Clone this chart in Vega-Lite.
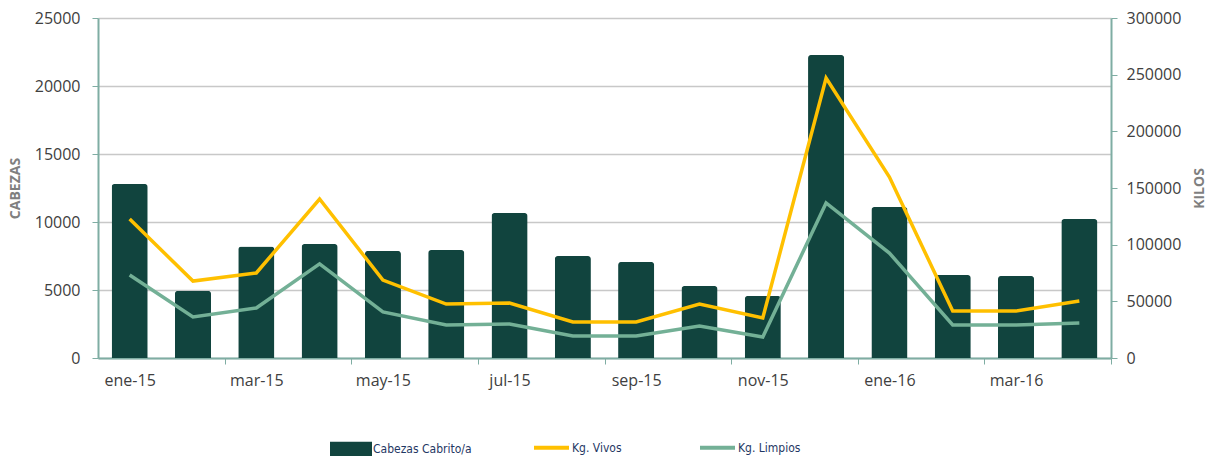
{
  "$schema": "https://vega.github.io/schema/vega-lite/v6.json",
  "width": 1013,
  "height": 340,
  "autosize": "none",
  "padding": {"left": 98, "top": 18, "right": 106, "bottom": 98},
  "background": "white",
  "config": {
    "view": {"stroke": null},
    "font": "Open Sans",
    "axis": {"labelFont": "Open Sans", "labelFontSize": 16, "labelColor": "#404040", "titleFont": "Open Sans"}
  },
  "data": {
    "values": [
      {"month": "ene-15", "cabezas": 12800, "vivos": 122600, "limpios": 73200},
      {"month": "feb-15", "cabezas": 4950, "vivos": 67900, "limpios": 36200},
      {"month": "mar-15", "cabezas": 8200, "vivos": 75000, "limpios": 44100},
      {"month": "abr-15", "cabezas": 8380, "vivos": 140300, "limpios": 83000},
      {"month": "may-15", "cabezas": 7870, "vivos": 68800, "limpios": 40600},
      {"month": "jun-15", "cabezas": 7940, "vivos": 47600, "limpios": 29100},
      {"month": "jul-15", "cabezas": 10660, "vivos": 48500, "limpios": 30000},
      {"month": "ago-15", "cabezas": 7500, "vivos": 31800, "limpios": 19400},
      {"month": "sep-15", "cabezas": 7060, "vivos": 31800, "limpios": 19400},
      {"month": "oct-15", "cabezas": 5290, "vivos": 47600, "limpios": 28200},
      {"month": "nov-15", "cabezas": 4560, "vivos": 35300, "limpios": 18500},
      {"month": "dic-15", "cabezas": 22280, "vivos": 247000, "limpios": 136800},
      {"month": "ene-16", "cabezas": 11100, "vivos": 159700, "limpios": 92600},
      {"month": "feb-16", "cabezas": 6100, "vivos": 41500, "limpios": 29100},
      {"month": "mar-16", "cabezas": 6030, "vivos": 41500, "limpios": 29100},
      {"month": "abr-16", "cabezas": 10220, "vivos": 50300, "limpios": 30900}
    ]
  },
  "encoding": {
    "x": {
      "field": "month",
      "type": "ordinal",
      "sort": null,
      "title": null,
      "scale": {"paddingInner": 0.43, "paddingOuter": 0.215},
      "axis": {
        "labelAngle": 0,
        "labelPadding": 8,
        "labelOffset": -31.66,
        "domainColor": "#7fada3",
        "domainWidth": 2,
        "tickColor": "#7fada3",
        "tickOffset": 31.66,
        "tickSize": 6,
        "tickWidth": 1,
        "tickOpacity": {"condition": {"test": "datum.value == 'feb-15' || datum.value == 'abr-15' || datum.value == 'jun-15' || datum.value == 'ago-15' || datum.value == 'oct-15' || datum.value == 'dic-15' || datum.value == 'feb-16' || datum.value == 'abr-16'", "value": 1}, "value": 0},
        "labelExpr": "(datum.value == 'ene-15' || datum.value == 'mar-15' || datum.value == 'may-15' || datum.value == 'jul-15' || datum.value == 'sep-15' || datum.value == 'nov-15' || datum.value == 'ene-16' || datum.value == 'mar-16') ? datum.label : ''",
        "grid": false
      }
    }
  },
  "layer": [
    {
      "mark": {"type": "bar", "cornerRadiusTopLeft": 3, "cornerRadiusTopRight": 3},
      "encoding": {
        "y": {
          "field": "cabezas",
          "type": "quantitative",
          "scale": {"domain": [0, 25000], "nice": false},
          "axis": {
            "title": "CABEZAS",
            "titleColor": "#7f7f7f",
            "titleFontSize": 14,
            "titleFontWeight": "bold",
            "titlePadding": 12,
            "values": [0, 5000, 10000, 15000, 20000, 25000],
            "format": "d",
            "domainColor": "#7fada3",
            "domainWidth": 2,
            "tickColor": "#7fada3",
            "tickSize": 6,
            "labelPadding": 12,
            "grid": true,
            "gridColor": "#c8c8c8",
            "gridWidth": 1.5
          }
        },
        "fill": {
          "datum": "Cabezas Cabrito/a",
          "type": "nominal",
          "scale": {"range": ["#11443e"]},
          "legend": {
            "orient": "none",
            "legendX": 232,
            "legendY": 410,
            "direction": "horizontal",
            "title": null,
            "symbolType": "M-1,-0.34H1V0.34H-1Z",
            "symbolSize": 1764,
            "symbolStrokeWidth": 0,
            "labelFont": "DejaVu Sans Condensed, Roboto",
            "labelFontSize": 12,
            "labelColor": "#1f3864",
            "labelOffset": 1
          }
        }
      }
    },
    {
      "transform": [{"fold": ["vivos", "limpios"], "as": ["key", "value"]}],
      "mark": {"type": "line", "strokeWidth": 3.5},
      "encoding": {
        "y": {
          "field": "value",
          "type": "quantitative",
          "scale": {"domain": [0, 300000], "nice": false},
          "axis": {
            "orient": "right",
            "title": "KILOS",
            "titleAngle": 270,
            "titleColor": "#7f7f7f",
            "titleFontSize": 14,
            "titleFontWeight": "bold",
            "titlePadding": 26,
            "values": [0, 50000, 100000, 150000, 200000, 250000, 300000],
            "format": "d",
            "domainColor": "#7fada3",
            "domainWidth": 2,
            "tickColor": "#7fada3",
            "tickSize": 6,
            "labelPadding": 9,
            "grid": false
          }
        },
        "stroke": {
          "field": "key",
          "type": "nominal",
          "scale": {"domain": ["vivos", "limpios"], "range": ["#ffc000", "#73b096"]},
          "legend": {
            "orient": "none",
            "legendX": 434,
            "legendY": 410,
            "direction": "horizontal",
            "title": null,
            "labelExpr": "datum.value == 'vivos' ? 'Kg. Vivos' : 'Kg. Limpios'",
            "symbolType": "stroke",
            "symbolSize": 1225,
            "symbolStrokeWidth": 4,
            "labelFont": "DejaVu Sans Condensed, Roboto",
            "labelFontSize": 12,
            "labelColor": "#1f3864",
            "labelOffset": 1,
            "columnPadding": 70
          }
        }
      }
    }
  ],
  "resolve": {"scale": {"y": "independent"}}
}
